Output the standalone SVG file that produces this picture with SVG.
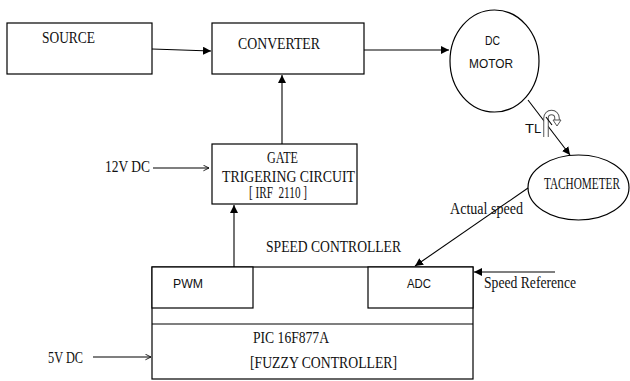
<svg xmlns="http://www.w3.org/2000/svg" width="630" height="381" viewBox="0 0 630 381">
<defs>
<marker id="fill" viewBox="0 0 10 10" refX="10" refY="5" markerWidth="8" markerHeight="8" orient="auto" markerUnits="userSpaceOnUse"><path d="M0,0 L10,5 L0,10 z" fill="#000"/></marker>
<marker id="open" viewBox="0 0 10 10" refX="9" refY="5" markerWidth="7" markerHeight="7" orient="auto" markerUnits="userSpaceOnUse"><path d="M1,1 L9,5 L1,9" fill="none" stroke="#000" stroke-width="1.2"/></marker>
<style>
.b{fill:#fff;stroke:#000;stroke-width:1.2}
.l{fill:none;stroke:#000;stroke-width:1.1}
.s{font-family:"Liberation Serif","Times New Roman",serif;font-size:16px;fill:#111;white-space:pre}
.n{font-family:"Liberation Sans",Arial,sans-serif;font-size:13px;fill:#111}
</style>
</defs>
<rect width="630" height="381" fill="#fff"/>
<g id="source"><rect class="b" x="7" y="23" width="145" height="51"/><text class="s" x="42" y="43" textLength="53" lengthAdjust="spacingAndGlyphs">SOURCE</text></g>
<g id="converter"><rect class="b" x="212" y="23" width="152" height="51"/><text class="s" x="238" y="49" textLength="82" lengthAdjust="spacingAndGlyphs">CONVERTER</text></g>
<g id="motor"><ellipse class="b" cx="494.5" cy="61" rx="44.5" ry="51"/><text class="n" x="485" y="45" textLength="15" lengthAdjust="spacingAndGlyphs">DC</text><text class="n" x="469" y="68" font-size="14" textLength="44" lengthAdjust="spacingAndGlyphs">MOTOR</text></g>
<g id="gate"><rect class="b" x="212" y="144" width="145" height="60"/><text class="s" x="267" y="163" font-size="13" textLength="31" lengthAdjust="spacingAndGlyphs">GATE</text><text class="s" x="222" y="182" font-size="14" textLength="133" lengthAdjust="spacingAndGlyphs">TRIGERING CIRCUIT</text><text class="s" x="249" y="198" font-size="12" textLength="58" lengthAdjust="spacingAndGlyphs">[ IRF  2110 ]</text></g>
<g id="tachometer"><ellipse class="b" cx="578.5" cy="187.5" rx="50.5" ry="32.5"/><text class="s" x="544" y="189" font-size="13" textLength="76" lengthAdjust="spacingAndGlyphs">TACHOMETER</text></g>
<g id="controller">
<rect class="b" x="152" y="267" width="321" height="112"/>
<line class="l" x1="152" y1="324" x2="473" y2="324"/>
<rect class="b" x="152" y="267" width="101" height="41"/>
<rect class="b" x="368" y="267" width="105" height="41"/>
<text class="n" x="173" y="288" font-size="14" textLength="30" lengthAdjust="spacingAndGlyphs">PWM</text>
<text class="n" x="407" y="288" font-size="14" textLength="24" lengthAdjust="spacingAndGlyphs">ADC</text>
<text class="s" x="253" y="343" font-size="14" textLength="76" lengthAdjust="spacingAndGlyphs">PIC 16F877A</text>
<text class="s" x="250" y="368" textLength="147" lengthAdjust="spacingAndGlyphs">[FUZZY CONTROLLER]</text>
</g>
<g id="connectors">
<line class="l" x1="152" y1="49" x2="211" y2="51" marker-end="url(#fill)"/>
<line class="l" x1="364" y1="50" x2="449" y2="50" marker-end="url(#fill)"/>
<line class="l" x1="282" y1="144" x2="282" y2="75" marker-end="url(#fill)"/>
<line class="l" x1="234" y1="267" x2="234" y2="205" marker-end="url(#fill)"/>
<line class="l" x1="528" y1="100" x2="570" y2="155" marker-end="url(#fill)"/>
<line class="l" x1="528" y1="188" x2="415" y2="266" marker-end="url(#fill)"/>
<line class="l" x1="555" y1="272" x2="474" y2="272" marker-end="url(#fill)"/>
<line class="l" x1="153" y1="168" x2="209" y2="168" marker-end="url(#open)"/>
<line class="l" x1="93" y1="357" x2="151" y2="357" marker-end="url(#open)"/>
</g>
<g id="labels">
<text class="s" x="105" y="172" textLength="45" lengthAdjust="spacingAndGlyphs">12V DC</text>
<text class="s" x="48" y="363" textLength="35" lengthAdjust="spacingAndGlyphs">5V DC</text>
<text class="s" x="484" y="288" textLength="92" lengthAdjust="spacingAndGlyphs">Speed Reference</text>
<text class="s" x="450" y="214" textLength="73" lengthAdjust="spacingAndGlyphs">Actual speed</text>
<text class="s" x="266" y="252" textLength="135" lengthAdjust="spacingAndGlyphs">SPEED CONTROLLER</text>
<text class="n" x="525" y="133" font-size="17" textLength="9" lengthAdjust="spacingAndGlyphs">T</text>
<text class="n" x="534" y="133" font-size="9">L</text>
</g>
<g id="torque">
<path d="M546,137 L546,118 A5.5,5.5 0 0 1 557,118 L557,121" fill="none" stroke="#555" stroke-width="5.5"/>
<path d="M546,137 L546,118 A5.5,5.5 0 0 1 557,118 L557,121" fill="none" stroke="#fff" stroke-width="3.5"/>
<path d="M553,120 L561,120 L557,126 Z" fill="#fff" stroke="#555" stroke-width="1"/>
<line class="l" x1="546" y1="117" x2="552" y2="125"/>
</g>
</svg>
